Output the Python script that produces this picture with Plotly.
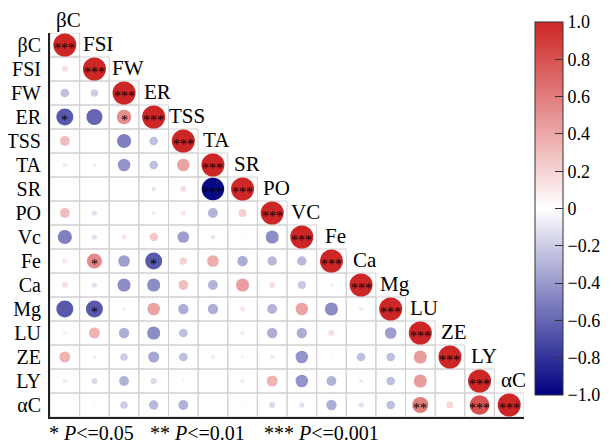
import plotly.graph_objects as go

row_labels = ["βC", "FSI", "FW", "ER", "TSS", "TA", "SR", "PO", "Vc", "Fe", "Ca", "Mg", "LU", "ZE", "LY", "αC"]
col_labels = ["βC", "FSI", "FW", "ER", "TSS", "TA", "SR", "PO", "VC", "Fe", "Ca", "Mg", "LU", "ZE", "LY", "αC"]

# lower-triangle correlations (row i, columns 0..i-1); diagonal = 1
r_FSI = [0.15]
r_FW = [-0.25, -0.2]
r_ER = [-0.65, -0.6, 0.52]
r_TSS = [0.3, 0.0, -0.5, -0.25]
r_TA = [0.1, 0.08, -0.42, -0.25, 0.42]
r_SR = [0.02, 0.0, 0.01, -0.1, 0.15, -0.97]
r_PO = [0.3, -0.12, 0.0, -0.08, 0.12, -0.3, 0.22]
r_Vc = [-0.5, -0.12, 0.12, 0.25, -0.38, -0.1, -0.04, -0.45]
r_Fe = [0.12, 0.55, -0.38, -0.65, 0.2, 0.38, -0.32, -0.28, -0.28]
r_Ca = [0.15, -0.12, -0.45, -0.45, 0.3, -0.3, 0.45, 0.15, -0.22, 0.08]
r_Mg = [-0.65, -0.65, 0.08, 0.42, -0.32, -0.32, 0.12, -0.3, 0.42, -0.45, 0.1]
r_LU = [0.08, 0.35, -0.32, -0.45, -0.25, 0.0, 0.1, -0.32, -0.32, 0.15, 0.03, -0.38]
r_ZE = [0.35, 0.08, -0.2, -0.35, -0.25, -0.08, -0.05, 0.1, -0.42, 0.05, -0.25, -0.25, 0.45]
r_LY = [0.1, -0.15, -0.3, -0.15, -0.05, -0.02, -0.08, 0.35, -0.42, -0.3, -0.08, -0.25, 0.45, 0.02]
r_aC = [0.03, 0.05, -0.2, -0.28, -0.3, 0.0, -0.04, -0.15, -0.12, -0.32, -0.12, -0.25, 0.6, 0.18, 0.8]

lower_rows = [[], r_FSI, r_FW, r_ER, r_TSS, r_TA, r_SR, r_PO, r_Vc, r_Fe, r_Ca, r_Mg, r_LU, r_ZE, r_LY, r_aC]

# significant off-diagonal cells
sig_rows = [3, 3, 9, 9, 11, 6, 15, 15]
sig_cols = [0, 2, 1, 3, 1, 5, 12, 14]
sig_marks = ["*", "*", "*", "*", "*", "***", "**", "***"]

cbar_vals = [1.0, 0.8, 0.6, 0.4, 0.2, 0.0, -0.2, -0.4, -0.6, -0.8, -1.0]
cbar_text = ["1.0", "0.8", "0.6", "0.4", "0.2", "0", "−0.2", "−0.4", "−0.6", "−0.8", "−1.0"]

legend_texts = ["* <i>P</i><=0.05", "** <i>P</i><=0.01", "*** <i>P</i><=0.001"]

FONT = "Liberation Serif, Times New Roman, serif"
n = len(row_labels)

# page body has an 8px margin; figure is sized/placed to compensate
OFF = 8
PL, PT, PW, PH = 50, 33, 474, 384   # plot area in window pixels

xs, ys, vals = [], [], []
for i in range(n):
    row = lower_rows[i] + [1.0]
    for j, v in enumerate(row):
        xs.append(j)
        ys.append(i)
        vals.append(v)

sizes = [23 * abs(v) ** 0.7 for v in vals]

colorscale = [[0.0, "#000080"], [0.5, "#FFFFFF"], [1.0, "#CD2626"]]

fig = go.Figure()
fig.add_trace(go.Scatter(
    x=xs, y=ys, mode="markers",
    marker=dict(size=sizes, color=vals, cmin=-1, cmax=1, colorscale=colorscale,
                line=dict(width=0), opacity=1,
                showscale=True,
                colorbar=dict(
                    x=(535 - PL) / PW, xanchor="left", xpad=0,
                    y=(PT + PH - 208.5) / PH, yanchor="middle", ypad=0,
                    len=373, lenmode="pixels", thickness=28, thicknessmode="pixels",
                    outlinecolor="#333333", outlinewidth=1,
                    ticks="inside", ticklen=8, tickcolor="#333333",
                    tickvals=cbar_vals, ticktext=cbar_text,
                    tickfont=dict(family=FONT, size=18, color="black"),
                )),
    hoverinfo="skip", showlegend=False,
))

shapes = []
for i in range(n):
    for j in range(i + 1):
        shapes.append(dict(type="rect", xref="x", yref="y",
                           x0=j - 0.5, x1=j + 0.5, y0=i - 0.5, y1=i + 0.5,
                           line=dict(color="#D0D0D0", width=1), layer="below"))

annotations = []
for i in range(n):
    if i == 0:
        pos = dict(y=1 + 12 / PH, yref="paper")
    else:
        pos = dict(y=i - 1, yref="y")
    annotations.append(dict(x=i, xref="x", text=col_labels[i],
                            showarrow=False, xanchor="center", yanchor="middle", xshift=4, yshift=1,
                            font=dict(family=FONT, size=21, color="black"), **pos))

star_r = list(range(n)) + sig_rows
star_c = list(range(n)) + sig_cols
star_t = ["***"] * n + sig_marks
for r, c, t in zip(star_r, star_c, star_t):
    annotations.append(dict(x=c, y=r, xref="x", yref="y", text=t, showarrow=False,
                            xanchor="center", yanchor="middle", yshift=-3,
                            font=dict(family=FONT, size=14, color="black")))

leg_x = [47, 148, 262]
for t, px in zip(legend_texts, leg_x):
    annotations.append(dict(x=(px - PL) / PW, y=-(433 - PT - PH) / PH, xref="paper", yref="paper",
                            text=t, showarrow=False, xanchor="left", yanchor="middle",
                            font=dict(family=FONT, size=20, color="black")))

W, H = 611 - OFF, 446 - OFF
fig.update_layout(
    width=W, height=H,
    margin=dict(l=PL - OFF, r=W - (PL - OFF) - PW, t=PT - OFF, b=H - (PT - OFF) - PH,
                autoexpand=False),
    paper_bgcolor="white", plot_bgcolor="white",
    shapes=shapes, annotations=annotations,
    xaxis=dict(range=[-0.5, n - 0.5], showgrid=False, zeroline=False, showticklabels=False,
               ticks="", showline=True, linecolor="#222222", linewidth=2, automargin=False),
    yaxis=dict(range=[n - 0.5, -0.5], showgrid=False, zeroline=False,
               tickvals=list(range(n)), ticktext=row_labels, ticks="", ticklabelstandoff=3,
               tickfont=dict(family=FONT, size=20, color="black"), automargin=False,
               showline=True, linecolor="#222222", linewidth=2),
)

fig.write_html("out.html")
